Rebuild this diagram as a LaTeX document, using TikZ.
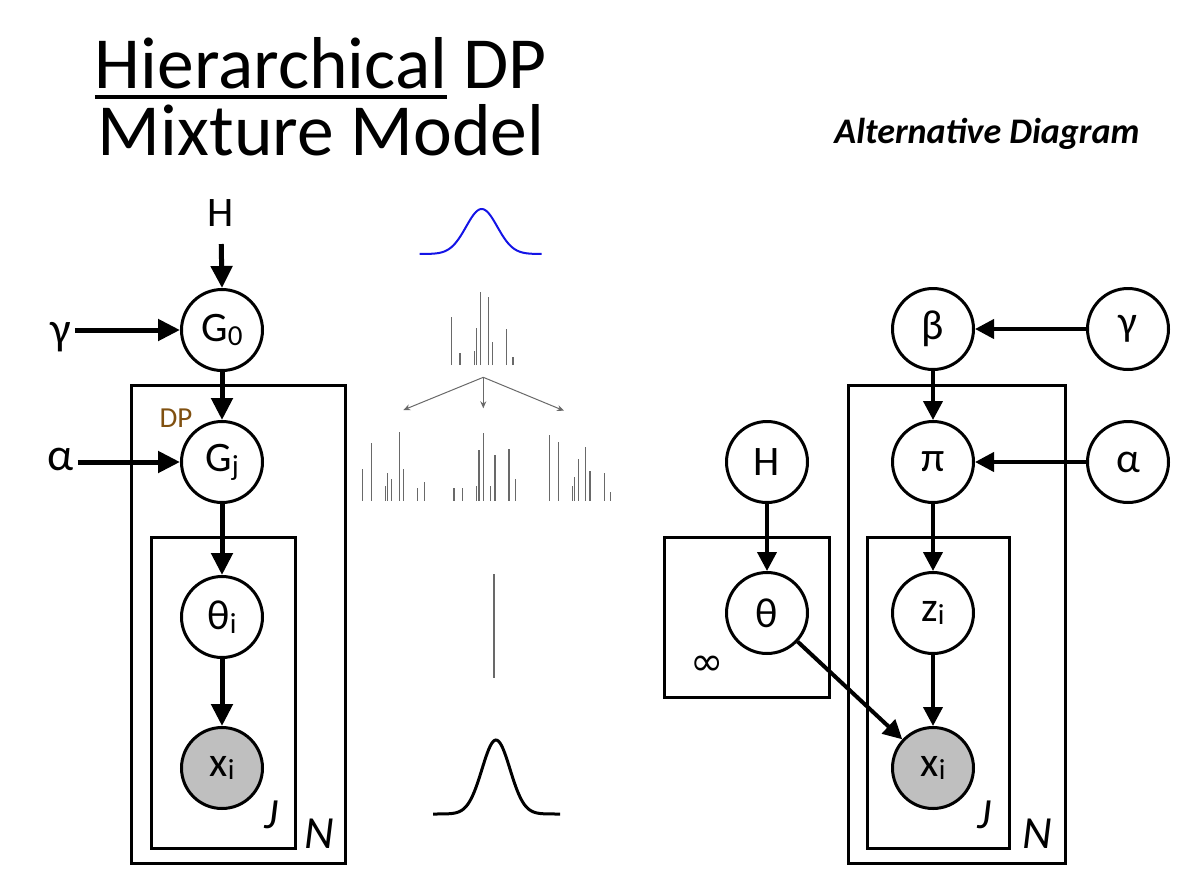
\documentclass[tikz,border=0pt]{standalone}
\usepackage{fontspec}
\setmainfont{Carlito}
\newfontfamily\symfnt{DejaVu Sans}
\usetikzlibrary{arrows.meta}
\newcommand\myfs[1]{\fontsize{#1}{#1}\selectfont}
\newcommand\mysub[1]{\raisebox{-0.09em}{\myfs{29}#1}}
\definecolor{dpbrown}{RGB}{128,80,16}
\definecolor{obsgray}{RGB}{191,191,191}
\definecolor{stickgray}{RGB}{105,105,105}
\definecolor{gaussblue}{RGB}{20,20,230}
\begin{document}
\begin{tikzpicture}[x=1pt,y=-1pt,
 rv/.style={circle,draw,line width=3pt,minimum size=81pt,inner sep=0pt,fill=white,font=\myfs{42}},
 obs/.style={rv,fill=obsgray},
 plate/.style={draw,line width=3pt},
 arr/.style={line width=5pt,-{Triangle[length=22pt,width=21pt]}},
 arrs/.style={line width=4pt,-{Triangle[length=19pt,width=19pt]}},
 lbl/.style={font=\myfs{42}},
 platelbl/.style={font=\myfs{43}\itshape},
 stick/.style={draw=stickgray,line width=1.5pt},
 fork/.style={draw=stickgray,line width=1pt,-{Stealth[length=7pt,width=6pt]}},
]
\useasboundingbox (0,0) rectangle (1195,876);

% ---------- title ----------
\node[font=\myfs{73.5},anchor=base] (t1) at (321,88)
  {{\setbox0\hbox{Hierarchical}\rlap{\raisebox{-11pt}{\rule{\wd0}{4pt}}}\box0} DP};
\node[font=\myfs{73.5},anchor=base] (t2) at (321,155) {Mixture Model};
\node[font=\myfs{36}\bfseries\itshape] (alt) at (987,134) {Alternative Diagram};

% ---------- left plates ----------
\draw[plate] (131,385) rectangle (345,863);
\draw[plate] (151.5,537.5) rectangle (295,848);
\node[platelbl] (Jl) at (271,815) {J};
\node[platelbl,font=\myfs{46}\itshape] (Nl) at (319,834) {N};

% ---------- left nodes ----------
\node[lbl] (Hl) at (221,213) {H};
\node[rv] (G0) at (222,330) {G\mysub{0}};
\node[lbl,font=\myfs{46}] (gl) at (61,337) {γ};
\node[rv] (Gj) at (222,462) {G\mysub{j}};
\node[lbl,font=\myfs{46}] (al) at (61,459) {α};
\node[rv] (thi) at (222,617) {θ\mysub{i}};
\node[obs] (xl) at (222,768) {x\mysub{i}};
\node[font=\myfs{29},text=dpbrown] (dp) at (176,418) {DP};

\draw[arr,shorten <=14pt] (Hl.south) -- (G0.north);
\draw[arr] (gl.east |- G0.west) -- (G0.west);
\draw[arr] (al.east |- Gj.west) -- (Gj.west);
\draw[arr] (G0.south) -- (Gj.north);
\draw[arr] (Gj.south) -- (thi.north);
\draw[arr] (thi.south) -- (xl.north);

% ---------- middle illustrations ----------
\draw[gaussblue,line width=2pt] plot[domain=-62:60,samples=90]
  ({481.7+\x},{254-45*exp(-(\x*\x)/(2*15.6*15.6))});
\foreach \a/\b in {451.7/316.7,460/353,474.3/351,476.3/328,480.7/291.7,
  488.3/296.7,492.3/342.3,506.7/329.3,513/356.7}
  \draw[stick] (\a,365) -- (\a,\b);
\coordinate (forko) at (483.3,377.3);
\coordinate (forkl) at (403.3,410);
\coordinate (forkm) at (483.3,408.3);
\coordinate (forkr) at (564,410.7);
\draw[fork] (forko) -- (forkl);
\draw[fork] (forko) -- (forkm);
\draw[fork] (forko) -- (forkr);
\foreach \a/\b in {362.7/469.3,371.7/443.3,385.7/485.7,387.7/472.7,391.7/479.3,
  399.3/432.3,403.3/469.3,417.7/487.7,424.3/482.3,454/487.7,462.3/487.7,
  476.7/485.7,479/450,483.3/433.3,490.7/485.7,495/455,509/449,515.7/479.3,
  549.3/435,558.3/442.3,572.3/485.7,574.3/477.3,578.3/459,585.7/447.3,
  590/471,604.3/473.3,610.7/492.3}
  \draw[stick] (\a,500.7) -- (\a,\b);
\draw[stickgray,line width=2pt] (494.3,574) -- (494.3,678);
\draw[black,line width=3pt] plot[domain=-63:64,samples=90]
  ({496+\x},{814-74*exp(-(\x*\x)/(2*14*14))});

% ---------- right plates ----------
\draw[plate] (848,385) rectangle (1065,863);
\draw[plate] (867,537.5) rectangle (1009,848);
\draw[plate] (664.5,537.5) rectangle (829,697.5);
\node[platelbl] (Jr) at (984,815) {J};
\node[platelbl,font=\myfs{46}\itshape] (Nr) at (1037,834) {N};
\node[font=\symfnt\myfs{40}] (inf) at (707,666) {∞};

% ---------- right nodes ----------
\node[rv] (beta) at (933,329) {β};
\node[rv] (gr) at (1128,329) {γ};
\node[rv] (pi) at (933,462) {π};
\node[rv] (ar) at (1128,462) {α};
\node[rv] (Hr) at (767,462) {H};
\node[rv] (th) at (767,613) {θ};
\node[rv] (z) at (933,613) {z\mysub{i}};
\node[obs] (xr) at (933,768) {x\mysub{i}};

\draw[arrs] (gr) -- (beta);
\draw[arrs] (ar) -- (pi);
\draw[arrs] (beta) -- (pi);
\draw[arrs] (pi) -- (z);
\draw[arrs] (z) -- (xr);
\draw[arrs] (Hr) -- (th);
\draw[arrs] (th) -- (xr);
\end{tikzpicture}
\end{document}
